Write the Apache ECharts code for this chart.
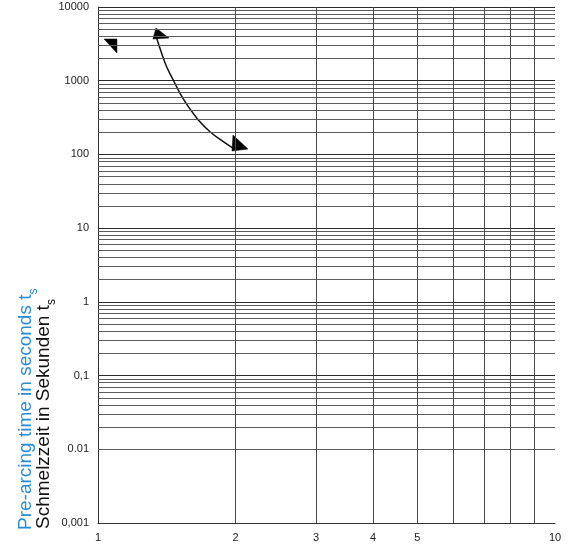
<!DOCTYPE html>
<html>
<head>
<meta charset="utf-8">
<script src="https://cdn.jsdelivr.net/npm/echarts@6/dist/echarts.min.js"></script>
<style>
html,body{margin:0;padding:0;background:#fff;}
#chart{width:568px;height:546px;}
</style>
</head>
<body>
<div id="chart"></div>
<script>
// ---- data ----
const yTickValues = [0.001, 0.01, 0.1, 1, 10, 100, 1000, 10000];
const yTickLabels = ['0,001', '0.01', '0,1', '1', '10', '100', '1000', '10000'];
const yDecades = [0.001, 0.01, 0.1, 1, 10, 100, 1000];
const yMultipliers = [2, 3, 4, 5, 6, 7, 8, 9];
const xGridValues = [2, 3, 4, 5, 6, 7, 8, 9];
const xLabelValues = [2, 3, 4, 5];
const xLabelTexts = ['2', '3', '4', '5'];
const curveX = [1.344, 1.378, 1.413, 1.461, 1.512, 1.577, 1.658, 1.758, 1.880, 1.977];
const curveY = [3761, 2354, 1549, 1022, 674.5, 443.9, 293, 203.2, 148.7, 121];
const arrowHeadTop = [[1.339, 5188], [1.319, 3681], [1.430, 3797]];
const arrowHeadBottom = [[1.974, 183.3], [2.129, 118.4], [1.964, 111.2]];
const markerLeft = [[1.031, 3681], [1.100, 3681], [1.100, 2376]];
const titleEn = 'Pre-arcing time in seconds t';
const titleDe = 'Schmelzzeit in Sekunden t';
const titleSub = 's';

// ---- build ----
const triangles = [arrowHeadTop, arrowHeadBottom, markerLeft];
const hMinor = [];
yDecades.forEach(d => yMultipliers.forEach(m => hMinor.push(+(d * m).toPrecision(6))));
const fontFam = '"Liberation Sans", Arial, Helvetica, sans-serif';

function yLabel(v) {
  const e = Math.round(Math.log10(v));
  for (let i = 0; i < yTickValues.length; i++) {
    if (Math.round(Math.log10(yTickValues[i])) === e) return yTickLabels[i];
  }
  return '';
}

const chart = echarts.init(document.getElementById('chart'), null, {renderer: 'canvas'});
const noSym = ['none', 'none'];
chart.setOption({
  animation: false,
  backgroundColor: '#fff',
  grid: {left: 98, right: 13, top: 7, bottom: 23, containLabel: false},
  xAxis: {
    type: 'log', logBase: 10, min: 1, max: 10,
    axisLine: {show: true, lineStyle: {color: '#333', width: 1}},
    axisTick: {show: false},
    splitLine: {show: false},
    axisLabel: {fontSize: 11, color: '#222', margin: 9, fontFamily: fontFam,
      formatter: v => String(Math.round(v))}
  },
  yAxis: {
    type: 'log', logBase: 10, min: 0.001, max: 10000, splitNumber: 7,
    axisLine: {show: true, lineStyle: {color: '#333', width: 1}},
    axisTick: {show: false},
    splitLine: {show: true, lineStyle: {color: '#2a2a2a', width: 1}},
    axisLabel: {fontSize: 11, color: '#222', margin: 9, fontFamily: fontFam,
      formatter: v => yLabel(v)}
  },
  series: [
    {
      type: 'line', silent: true, data: [],
      markLine: {
        silent: true, symbol: noSym, animation: false,
        label: {show: false},
        lineStyle: {color: '#5c5c5c', width: 1, type: 'solid'},
        emphasis: {disabled: true},
        data: hMinor.map(v => ({yAxis: v}))
      }
    },
    {
      type: 'line', silent: true, data: [],
      markLine: {
        silent: true, symbol: noSym, animation: false,
        lineStyle: {color: '#4a4a4a', width: 1, type: 'solid'},
        emphasis: {disabled: true},
        data: xGridValues.map(v => {
          const k = xLabelValues.indexOf(v);
          return {
            xAxis: v,
            label: k >= 0 ? {show: true, position: 'start', formatter: xLabelTexts[k],
              fontSize: 11, color: '#222', distance: 9, fontFamily: fontFam} : {show: false}
          };
        })
      }
    },
    {
      type: 'line', smooth: 0.4, showSymbol: false, silent: true,
      lineStyle: {color: '#111', width: 1.5},
      data: curveX.map((x, i) => [x, curveY[i]])
    },
    {
      type: 'custom', silent: true,
      data: triangles.map((t, i) => [t[0][0], t[0][1], i]),
      renderItem: function (params, api) {
        const tri = triangles[api.value(2)];
        return {
          type: 'polygon',
          shape: {points: tri.map(p => api.coord(p))},
          style: {fill: '#000', stroke: '#000', lineWidth: 0.5}
        };
      }
    }
  ],
  graphic: [
    {
      type: 'text', x: 26, y: 530, rotation: Math.PI / 2,
      style: {
        text: '{a|' + titleEn + '}{s|' + titleSub + '}',
        align: 'left', verticalAlign: 'middle',
        rich: {
          a: {fontSize: 19, lineHeight: 28, fill: '#2a8cd4', fontFamily: fontFam},
          s: {fontSize: 12, lineHeight: 12, verticalAlign: 'bottom', fill: '#2a8cd4', fontFamily: fontFam}
        }
      }
    },
    {
      type: 'text', x: 44, y: 529, rotation: Math.PI / 2,
      style: {
        text: '{a|' + titleDe + '}{s|' + titleSub + '}',
        align: 'left', verticalAlign: 'middle',
        rich: {
          a: {fontSize: 19, lineHeight: 28, fill: '#111', fontFamily: fontFam},
          s: {fontSize: 12, lineHeight: 12, verticalAlign: 'bottom', fill: '#111', fontFamily: fontFam}
        }
      }
    }
  ]
});
</script>
</body>
</html>
